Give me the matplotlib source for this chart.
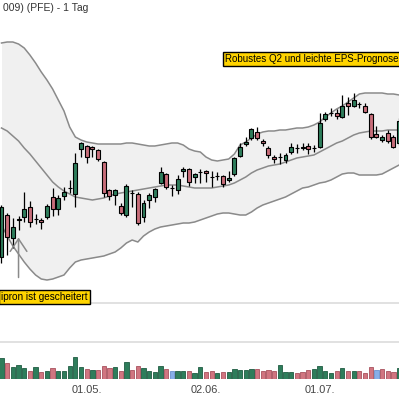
import matplotlib.pyplot as plt
import numpy as np

# daily candles (PFE), from 09.04. on
opens = [19.72, 21.40, 20.48, 21.20, 21.32, 21.72, 21.24, 21.20, 21.32, 22.12,
         21.64, 22.16, 22.48, 22.24, 24.04, 24.16, 24.12, 24.00, 23.52, 22.40,
         22.20, 21.76, 21.40, 22.28, 22.24, 21.32, 22.00, 22.12, 22.68, 23.04,
         22.48, 22.40, 23.16, 23.24, 22.92, 23.12, 23.16, 22.92, 22.96, 22.96,
         22.80, 23.04, 23.76, 24.24, 24.48, 24.72, 24.36, 24.08, 23.72, 23.72,
         23.60, 23.92, 24.08, 24.08, 24.16, 24.08, 24.12, 25.24, 25.48, 25.48,
         25.32, 25.88, 25.76, 25.84, 25.76, 25.44, 24.64, 24.40, 24.68, 24.52,
         24.28]
highs = [21.80, 21.48, 21.28, 21.36, 22.32, 21.96, 21.44, 21.28, 21.84, 22.48,
         22.20, 22.52, 22.80, 23.88, 24.32, 24.20, 24.16, 24.04, 23.56, 22.44,
         22.44, 21.88, 22.64, 22.40, 22.32, 22.00, 22.28, 22.48, 23.32, 23.08,
         22.60, 23.00, 23.32, 23.28, 23.08, 23.24, 23.20, 23.16, 23.12, 23.00,
         23.16, 23.72, 24.28, 24.52, 24.88, 24.92, 24.44, 24.16, 23.80, 23.88,
         23.88, 24.28, 24.24, 24.28, 24.28, 24.20, 25.48, 25.52, 25.68, 25.64,
         26.20, 26.12, 26.28, 25.92, 25.88, 25.48, 24.96, 24.60, 24.80, 24.60,
         25.28]
lows = [19.48, 19.80, 20.08, 20.80, 21.12, 20.92, 21.04, 20.84, 21.24, 21.36,
        21.40, 22.00, 22.28, 21.72, 23.72, 23.48, 23.72, 23.56, 22.12, 22.00,
        21.80, 21.40, 21.32, 21.72, 21.00, 21.12, 21.68, 21.92, 22.64, 22.44,
        22.16, 22.24, 22.92, 22.56, 22.68, 22.68, 22.72, 22.52, 22.80, 22.52,
        22.72, 22.96, 23.72, 24.16, 24.40, 24.40, 24.16, 23.68, 23.48, 23.44,
        23.48, 23.84, 23.88, 24.00, 23.84, 23.92, 24.08, 25.16, 25.36, 25.24,
        25.28, 25.40, 25.72, 25.68, 25.48, 24.44, 24.48, 24.32, 24.28, 24.08,
        24.20]
closes = [21.72, 20.52, 20.92, 21.24, 21.64, 21.12, 21.26, 21.12, 21.76, 21.64,
          22.08, 22.32, 22.50, 23.48, 24.28, 23.72, 24.04, 23.64, 22.28, 22.16,
          22.40, 21.48, 22.56, 22.26, 21.08, 21.88, 22.20, 22.44, 23.12, 22.52,
          22.46, 22.84, 23.24, 22.72, 23.04, 23.14, 23.08, 22.94, 22.98, 22.64,
          22.88, 23.68, 24.12, 24.32, 24.84, 24.48, 24.28, 23.80, 23.64, 23.74,
          23.80, 24.12, 24.06, 24.12, 24.04, 24.10, 25.08, 25.44, 25.50, 25.36,
          25.76, 25.76, 26.00, 25.82, 25.52, 24.52, 24.52, 24.52, 24.36, 24.12,
          25.16]

# Bollinger bands
bb_upper = [28.28, 28.32, 28.32, 28.24, 28.08, 27.80, 27.48, 27.12, 26.80, 26.44,
            26.00, 25.56, 24.92, 24.52, 24.40, 24.32, 24.28, 24.24, 24.24, 24.24,
            24.24, 24.24, 24.28, 24.28, 24.24, 24.20, 24.16, 24.16, 24.20, 24.24,
            24.28, 24.28, 24.20, 24.04, 23.96, 23.92, 23.72, 23.60, 23.56, 23.60,
            23.64, 23.84, 24.20, 24.32, 24.48, 24.64, 24.72, 24.76, 24.76, 24.80,
            24.80, 24.84, 24.88, 24.88, 24.92, 25.00, 25.12, 25.32, 25.48, 25.64,
            25.76, 25.92, 26.08, 26.24, 26.28, 26.28, 26.28, 26.28, 26.24, 26.24,
            26.20]
bb_middle = [24.88, 24.76, 24.56, 24.36, 24.08, 23.84, 23.56, 23.28, 23.00, 22.72,
             22.52, 22.36, 22.24, 22.12, 22.08, 22.04, 22.00, 22.04, 22.08, 22.16,
             22.24, 22.28, 22.32, 22.36, 22.40, 22.44, 22.48, 22.52, 22.56, 22.60,
             22.60, 22.60, 22.56, 22.52, 22.48, 22.48, 22.48, 22.48, 22.52, 22.56,
             22.60, 22.68, 22.80, 22.92, 23.08, 23.20, 23.28, 23.36, 23.40, 23.44,
             23.52, 23.60, 23.68, 23.72, 23.76, 23.80, 23.92, 24.04, 24.16, 24.28,
             24.36, 24.48, 24.60, 24.68, 24.72, 24.76, 24.76, 24.76, 24.80, 24.80,
             24.80]
bb_lower = [21.00, 20.56, 20.16, 19.84, 19.52, 19.24, 19.00, 18.84, 18.80, 18.84,
            18.92, 19.00, 19.28, 19.52, 19.60, 19.64, 19.68, 19.72, 19.76, 19.84,
            19.92, 20.08, 20.28, 20.40, 20.32, 20.56, 20.72, 20.84, 20.92, 20.96,
            21.00, 21.04, 21.08, 21.08, 21.12, 21.20, 21.28, 21.36, 21.44, 21.48,
            21.48, 21.44, 21.40, 21.40, 21.52, 21.68, 21.80, 21.88, 21.96, 22.04,
            22.12, 22.24, 22.36, 22.48, 22.52, 22.60, 22.68, 22.72, 22.80, 22.92,
            23.04, 23.08, 23.08, 23.00, 23.00, 23.00, 23.00, 23.04, 23.16, 23.28,
            23.40]

# volume in millions, bar colour code (g/r/b)
volume = [52.5, 40, 30, 35, 27.5, 20, 30, 17.5, 20, 27.5,
          20, 20, 32.5, 55, 30, 25, 22.5, 22.5, 32.5, 27.5,
          30, 20, 42.5, 22.5, 32.5, 27.5, 20, 17.5, 32.5, 25,
          20, 20, 20, 20, 15, 30, 17.5, 20, 15, 17.5,
          17.5, 25, 22.5, 22.5, 25, 25, 20, 22.5, 20, 35,
          17.5, 17.5, 15, 17.5, 22.5, 25, 32.5, 20, 15, 20,
          27.5, 20, 20, 20, 15, 30, 22.5, 25, 20, 17.5,
          27.5]
vol_dir = "grgggrgrgrggggg" "rgrrrgrgrrggggrb" "ggrggrrgrggggg" "rrrrgggrrrggggrgrgrrrbrrrg"

tick_pos = [15, 36, 56]
tick_labels = ["01.05.", "02.06.", "01.07."]

GREEN = "#2e7d5b"
RED = "#c86e7a"
vol_colors = {"g": "#2e7d5b", "r": "#d07580", "b": "#86aee8"}
vol_edges = {"g": "#1f5c42", "r": "#a8525e", "b": "#6a90cc"}

x = np.arange(len(opens))
o = np.array(opens)
c = np.array(closes)

plt.rcParams['font.family'] = ['Liberation Sans', 'DejaVu Sans']
fig = plt.figure(figsize=(3.99, 3.99), dpi=100)

ax = fig.add_axes([0, 96 / 399, 1, 303 / 399])
ax.fill_between(x, bb_lower, bb_upper, color="#f0f0f0", lw=0, zorder=1)
for band in (bb_upper, bb_middle, bb_lower):
    ax.plot(x, band, color="#8a8a8a", lw=1.1, zorder=2)

up = c >= o
body = np.where(np.abs(c - o) < 0.03, 0.02, c - o)
ax.vlines(x, lows, highs, color="black", lw=0.9, zorder=3)
ax.bar(x, body, bottom=o, width=0.7, color=np.where(up, GREEN, RED),
       edgecolor="black", linewidth=0.8, zorder=4)

# news markers
ax.annotate("", xy=(3, lows[3] - 0.3), xytext=(3, lows[3] - 1.9),
            arrowprops=dict(arrowstyle="->,head_length=0.45,head_width=0.3",
                            color="#8a8a8a", lw=1.1, mutation_scale=20,
                            shrinkA=0, shrinkB=0), zorder=5)
ax.text(88 / 399, 1 - 296.5 / 303, "ipron ist gescheitert", transform=ax.transAxes,
        ha="right", va="center", fontsize=7.2, color="black", zorder=6,
        bbox=dict(boxstyle="square,pad=0.2", fc="#ffd400", ec="black", lw=1))
ax.text(225 / 399, 1 - 59 / 303, "Robustes Q2 und leichte EPS-Prognose", transform=ax.transAxes,
        ha="left", va="center", fontsize=7.0, color="black", zorder=6,
        bbox=dict(boxstyle="square,pad=0.22", fc="#ffd400", ec="black", lw=1))

ax.set_xlim(-0.264, 69.98)
ax.set_ylim(17.88, 30)
ax.set_xticks([])
ax.set_yticks([])
for s in ("top", "left", "right"):
    ax.spines[s].set_visible(False)
ax.spines["bottom"].set_color("#dcdcdc")
ax.spines["bottom"].set_linewidth(1.2)
ax.patch.set_alpha(0)

axv = fig.add_axes([0, 20 / 399, 1, 37 / 399])
axv.bar(x, volume, width=0.75, color=[vol_colors[d] for d in vol_dir],
        edgecolor=[vol_edges[d] for d in vol_dir], linewidth=0.6)
axv.set_xlim(-0.264, 69.98)
axv.set_ylim(0, 92.5)
axv.set_yticks([])
axv.set_xticks(tick_pos)
axv.set_xticklabels(tick_labels, fontsize=7.9, color="#444444")
axv.tick_params(axis="x", length=0, pad=4)
for s in ("bottom", "left", "right"):
    axv.spines[s].set_visible(False)
axv.spines["top"].set_color("#dcdcdc")
axv.spines["top"].set_linewidth(1.2)
axv.patch.set_alpha(0)

fig.text(88 / 399, 1 - 8 / 399, "009) (PFE) - 1 Tag", ha="right",
         va="center", fontsize=7.5, color="#333333")

fig.savefig("out.png", dpi=100)
